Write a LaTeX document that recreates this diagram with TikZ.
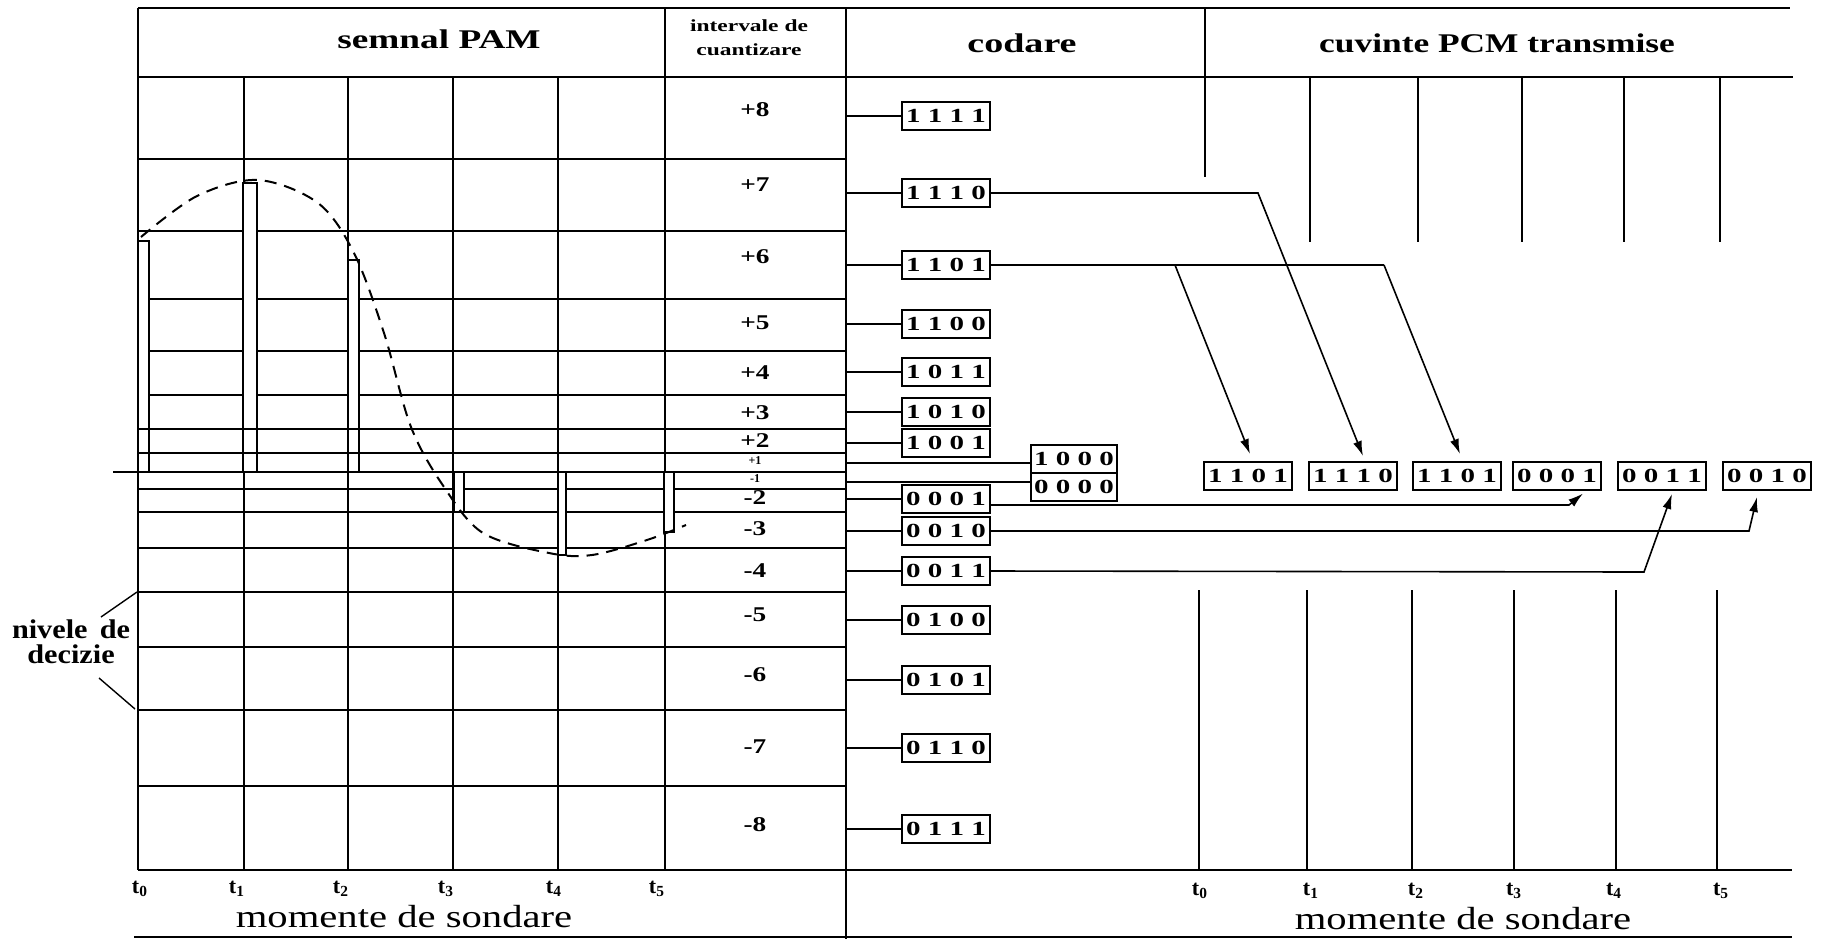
\documentclass[tikz,border=0pt]{standalone}
\usepackage{graphicx}
\usepackage{fontspec}
\setmainfont{Liberation Serif}
\usetikzlibrary{arrows.meta,calc}
\newcommand{\strx}[2]{\scalebox{#1}[1]{#2}}
\def\bitsfour#1#2#3#4{\strx{1.45}{#1 #2 #3 #4}}
\begin{document}
\begin{tikzpicture}[x=0.5pt,y=-0.5pt,line width=0.9pt,
  codebox/.style={draw,line width=1pt,fill=white,minimum width=44pt,minimum height=14pt,inner sep=0pt,font=\fontsize{10}{12}\selectfont\bfseries},
  lvl/.style={font=\fontsize{10.5}{12}\selectfont\bfseries},
  lvls/.style={font=\fontsize{6}{7}\selectfont\bfseries},
  hdr/.style={font=\fontsize{13.5}{16}\selectfont\bfseries},
  tlab/.style={font=\fontsize{11}{13}\selectfont\bfseries},
  mom/.style={font=\fontsize{16}{18}\selectfont},
  bar/.style={draw,fill=white,line width=0.9pt},
  arr/.style={-{Latex[length=7.5pt,width=4.5pt]},line width=0.8pt}
]
\useasboundingbox (0,0) rectangle (1822,939);
% frame
\draw (138,8) -- (1790,8);
\draw (138,8) -- (138,870);
\draw (138,77) -- (1793,77);
\draw (665,8) -- (665,870);
\draw (846,8) -- (846,939);
\draw (1205,8) -- (1205,177);
\foreach \x in {244,348,453,558} \draw (\x,77) -- (\x,870);
\foreach \y in {159,231,299,351,395,489,512,548,592,647,710,786} \draw (138,\y) -- (846,\y);
\draw (113,472) -- (846,472);
\draw (138,870) -- (1792,870);
\draw (134,937) -- (1792,937);
\foreach \x in {1310,1418,1522,1624,1720} \draw (\x,77) -- (\x,242);
\foreach \x in {1199,1307,1412,1514,1616,1717} \draw (\x,590) -- (\x,870);
% bars
\draw[bar] (138,241) rectangle (149,472);
\draw[bar] (243,183) rectangle (257,472);
\draw[bar] (348,260) rectangle (359,472);
\draw[bar] (454,472) rectangle (464,512);
\draw[bar] (558,472) rectangle (566,555);
\draw[bar] (664,472) rectangle (674,532);
\draw (138,429) -- (846,429);
\draw (138,453) -- (846,453);
% signal
\draw[dash pattern=on 6pt off 4pt,line width=1pt] plot[smooth,tension=0.55] coordinates {(141,237) (197,196) (258,180) (318,203) (354,253) (384,333) (411,427) (444,487) (483,533) (549,553) (592,555) (647,540) (686,525)};
% headers
\node[hdr] (hpam) at (439,39) {\strx{1.38}{semnal PAM}};
\node[font=\fontsize{8.5}{12}\selectfont\bfseries,align=center] (hint) at (749,38) {\strx{1.38}{intervale de}\\\strx{1.38}{cuantizare}};
\node[hdr] (hcod) at (1022,43) {\strx{1.41}{codare}};
\node[hdr] (hpcm) at (1497,43) {\strx{1.31}{cuvinte PCM transmise}};
% levels
\foreach \t/\y in {+8/110,+7/185,+6/257,+5/323,+4/373,+3/413,+2/441,-2/498,-3/529,-4/571,-5/615,-6/675,-7/747,-8/825}
  \node[lvl] (lv\y) at (755,\y) {\strx{1.3}{\t}};
\node[lvls] (lvp1) at (755,461) {+1};
\node[lvls] (lvm1) at (755,479) {-1};
% code boxes
\foreach \n/\y in {1111/116,1110/193,1101/265,1100/324,1011/372,1010/412,1001/443,0001/499,0010/531,0011/571,0100/620,0101/680,0110/748,0111/829}{
  \node[codebox] (c\n) at (946,\y) {\expandafter\bitsfour\n};
  \coordinate (l\n) at (846,\y);
  \draw (l\n) -- (c\n);
}
\node[codebox,minimum width=43pt] (c1000) at (1074,459) {\bitsfour1000};
\node[codebox,minimum width=43pt] (c0000) at (1074,487) {\bitsfour0000};
\coordinate (l1000) at (846,463);
\coordinate (l0000) at (846,482);
\draw (l1000) -- (l1000 -| c1000.west);
\draw (l0000) -- (l0000 -| c0000.west);
% transmitted words
\foreach \n/\x/\i in {1101/1248/1,1110/1353/2,1101/1457/3,0001/1557/4,0011/1662/5,0010/1767/6}
  \node[codebox] (p\i) at (\x,476) {\expandafter\bitsfour\n};
% arrows
\coordinate (k1) at (1175,265);
\coordinate (k3) at (1384,265);
\coordinate (k2) at (1258,193);
\coordinate (k4) at (1569,505);
\coordinate (k5) at (1644,572);
\coordinate (k6) at (1749,531);
\draw (c1101.east) -- (k3);
\draw[arr] (k1) -- ([xshift=1pt,yshift=3.5pt]p1.north);
\draw[arr] (k3) -- ([xshift=1.5pt,yshift=3.5pt]p3.north);
\draw[arr] (c1110.east) -- (k2) -- ([xshift=5pt,yshift=2.5pt]p2.north);
\draw[arr] (c0001.east |- k4) -- (k4) -- ([xshift=13pt,yshift=-1.25pt]p4.south);
\draw[arr] (c0011.east) -- (k5) -- ([xshift=5pt,yshift=-1.5pt]p5.south);
\draw[arr] (c0010.east) -- (k6) -- ([xshift=-5pt,yshift=-3pt]p6.south);
% nivele de decizie
\node[font=\fontsize{13.5}{12.5}\selectfont\bfseries,align=center] (niv) at (71,642) {\makebox[59pt][s]{\strx{1.12}{nivele} \strx{1.12}{de}}\\\strx{1.12}{decizie}};
\coordinate (n1) at (101,617);
\coordinate (d1) at (137,592);
\coordinate (n2) at (99,678);
\coordinate (d2) at (135,709);
\draw[line width=0.7pt] (n1) -- (d1);
\draw[line width=0.7pt] (n2) -- (d2);
% sampling moments
\foreach \x/\i in {140/0,237/1,341/2,446/3,554/4,657/5}
  \node[tlab] (tl\i) at (\x,889) {t\textsubscript{\i}};
\foreach \x/\i in {1200/0,1311/1,1416/2,1514/3,1614/4,1721/5}
  \node[tlab] (tr\i) at (\x,891) {t\textsubscript{\i}};
\node[mom] (ml) at (404,917) {\strx{1.27}{momente de sondare}};
\node[mom] (mr) at (1463,919) {\strx{1.27}{momente de sondare}};
\end{tikzpicture}
\end{document}
